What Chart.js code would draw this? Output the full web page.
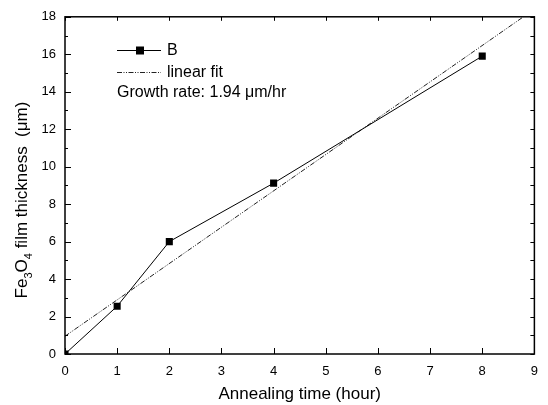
<!DOCTYPE html>
<html>
<head>
<meta charset="utf-8">
<script src="https://cdn.jsdelivr.net/npm/chart.js@4.4.0/dist/chart.umd.min.js"></script>
<style>
  html, body { margin: 0; padding: 0; background: #fff; }
  #wrap { width: 548px; height: 405px; }
</style>
</head>
<body>
<div id="wrap"><canvas id="chart" width="548" height="405"></canvas></div>
<script>
const annealHours = [0, 1, 2, 4, 8];
const thickness = [0, 2.55, 6.0, 9.12, 15.9];

// Linear fit endpoints (line leaves the frame at the top)
const fitHours = [0, 8.79];
const fitThickness = [0.95, 18];

const growthRateText = 'Growth rate: 1.94 \u03bcm/hr';
const xTitle = 'Annealing time (hour)';
const yMinorStep = 1;

const FONT = '"Liberation Sans", Arial, sans-serif';

// frame with inward ticks on all four sides
const framePlugin = {
    id: 'frame',
    afterDraw(chart) {
        const ctx = chart.ctx;
        const area = chart.chartArea;
        const xs = chart.scales.x;
        const ys = chart.scales.y;
        ctx.save();
        ctx.strokeStyle = '#000';
        ctx.lineWidth = 1.5;
        ctx.strokeRect(area.left, area.top, area.right - area.left, area.bottom - area.top);

        ctx.lineWidth = 1;
        ctx.beginPath();
        for (let v = xs.min; v <= xs.max; v += 1) {
            const px = Math.round(xs.getPixelForValue(v)) + 0.5;
            ctx.moveTo(px, area.bottom);
            ctx.lineTo(px, area.bottom - 6);
            ctx.moveTo(px, area.top);
            ctx.lineTo(px, area.top + 4);
        }
        for (let v = ys.min; v <= ys.max; v += yMinorStep) {
            const py = Math.round(ys.getPixelForValue(v)) + 0.5;
            const len = v % 2 === 0 ? 6 : 3;
            ctx.moveTo(area.left, py);
            ctx.lineTo(area.left + len, py);
            ctx.moveTo(area.right, py);
            ctx.lineTo(area.right - 4, py);
        }
        ctx.stroke();
        ctx.restore();
    }
};

// y title with subscripts, legend and growth-rate note
const annotatePlugin = {
    id: 'annotate',
    afterDraw(chart) {
        const ctx = chart.ctx;
        ctx.save();

        // rotated y title
        const parts = [
            { t: 'Fe', sub: false },
            { t: '3', sub: true },
            { t: 'O', sub: false },
            { t: '4', sub: true },
            { t: ' film thickness  (\u03bcm)', sub: false }
        ];
        const big = '17px ' + FONT;
        const small = '11px ' + FONT;
        let total = 0;
        parts.forEach(p => {
            ctx.font = p.sub ? small : big;
            p.w = ctx.measureText(p.t).width;
            total += p.w;
        });
        ctx.translate(22, 200);
        ctx.rotate(-Math.PI / 2);
        ctx.fillStyle = '#000';
        ctx.textBaseline = 'middle';
        ctx.textAlign = 'left';
        let x = -total / 2;
        parts.forEach(p => {
            ctx.font = p.sub ? small : big;
            ctx.fillText(p.t, x, p.sub ? 7 : 0);
            x += p.w;
        });
        ctx.setTransform(1, 0, 0, 1, 0, 0);

        // legend
        const ds = chart.data.datasets;
        ctx.font = '16px ' + FONT;
        ctx.textBaseline = 'middle';
        ctx.fillStyle = '#000';

        const rows = [50, 72];
        ds.forEach((d, i) => {
            const y = rows[i] + 0.5;
            ctx.beginPath();
            ctx.strokeStyle = d.borderColor;
            ctx.lineWidth = d.borderWidth;
            ctx.setLineDash(d.borderDash || []);
            ctx.moveTo(117, y);
            ctx.lineTo(161, y);
            ctx.stroke();
            ctx.setLineDash([]);
            if (d.pointRadius > 0) {
                ctx.fillStyle = d.pointBackgroundColor;
                ctx.fillRect(136, y - 4, 8, 8);
            }
            ctx.fillStyle = '#000';
            ctx.fillText(d.label, 167, rows[i] + 1);
        });
        ctx.fillText(growthRateText, 117, 93);
        ctx.restore();
    }
};

const ctx = document.getElementById('chart');
const chart = new Chart(ctx, {
    type: 'line',
    data: {
        datasets: [
            {
                label: 'B',
                data: annealHours.map((h, i) => ({ x: h, y: thickness[i] })),
                borderColor: '#000',
                borderWidth: 1,
                pointStyle: 'rect',
                pointRadius: 5,
                pointBorderWidth: 0,
                pointBackgroundColor: '#000',
                pointBorderColor: '#000',
                tension: 0
            },
            {
                label: 'linear fit',
                data: fitHours.map((h, i) => ({ x: h, y: fitThickness[i] })),
                borderColor: '#222',
                borderWidth: 1,
                borderDash: [5, 1.5, 1, 1.5, 1, 1.5],
                pointRadius: 0,
                tension: 0
            }
        ]
    },
    plugins: [framePlugin, annotatePlugin],
    options: {
        responsive: false,
        animation: false,
        devicePixelRatio: 1,
        layout: {
            padding: { left: 0, right: 7, top: 14, bottom: 0 }
        },
        plugins: {
            legend: { display: false },
            tooltip: { enabled: false }
        },
        scales: {
            x: {
                type: 'linear',
                min: 0,
                max: 9,
                afterFit: s => { s.height = 51; },
                grid: { display: false, drawTicks: false },
                border: { display: false },
                ticks: {
                    stepSize: 1,
                    padding: 10,
                    color: '#000',
                    font: { family: FONT, size: 13 }
                },
                title: {
                    display: true,
                    text: xTitle,
                    color: '#000',
                    font: { family: FONT, size: 17 },
                    padding: { top: 0, bottom: 0 }
                }
            },
            y: {
                type: 'linear',
                min: 0,
                max: 18,
                afterFit: s => { s.width = 65; },
                grid: { display: false, drawTicks: false },
                border: { display: false },
                ticks: {
                    stepSize: 2,
                    padding: 9,
                    color: '#000',
                    font: { family: FONT, size: 13 }
                }
            }
        }
    }
});
</script>
</body>
</html>
